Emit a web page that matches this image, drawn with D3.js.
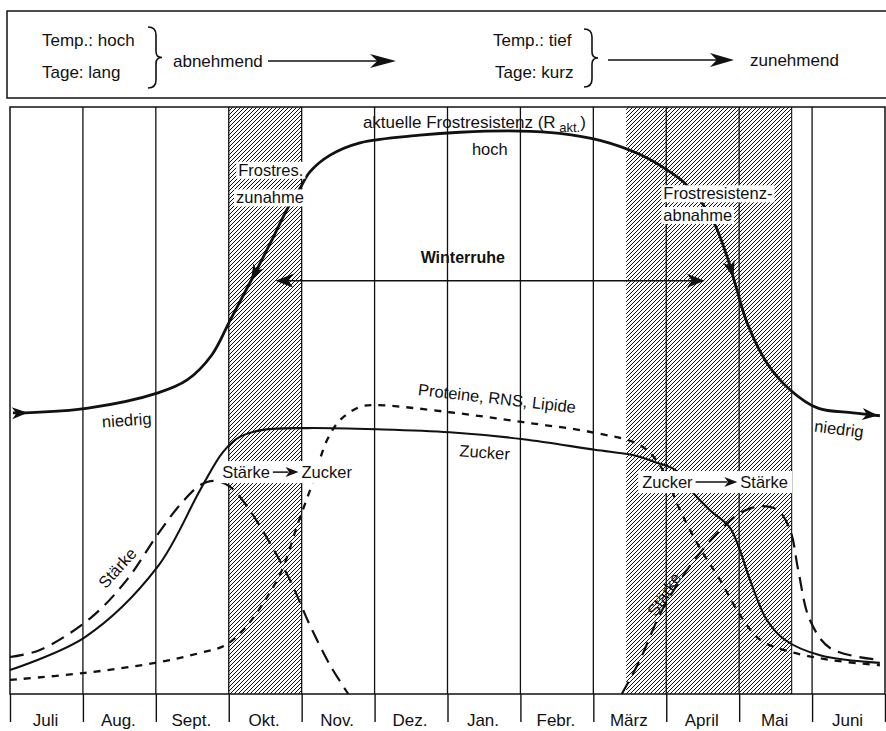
<!DOCTYPE html>
<html>
<head>
<meta charset="utf-8">
<script src="https://cdn.jsdelivr.net/npm/d3@7"></script>
<style>
  html, body { margin: 0; padding: 0; background: #fff; }
  svg { display: block; }
  text { font-family: "Liberation Sans", Arial, sans-serif; fill: #111; }
</style>
</head>
<body>
<svg id="chart"></svg>
<script>
/** DATA: x = months since 1 July, y = relative level (0..100) **/
const months = ['Juli', 'Aug.', 'Sept.', 'Okt.', 'Nov.', 'Dez.', 'Jan.', 'Febr.', 'März', 'April', 'Mai', 'Juni'];

const frostCurve = [
  [0.04, 47.9], [0.21, 47.9], [1.07, 48.7], [2.03, 51.3], [2.43, 53.5], [2.77, 57.8], [3.02, 63.7],
  [3.33, 71.0], [3.57, 76.8], [3.81, 82.8], [3.98, 86.2], [4.11, 88.9], [4.39, 91.8], [4.80, 93.9],
  [5.62, 95.2], [6.17, 95.7], [6.99, 95.9], [7.54, 95.5], [8.09, 94.3], [8.64, 91.9], [9.01, 89.3],
  [9.23, 87.3], [9.46, 84.2], [9.67, 79.9], [9.85, 73.9], [9.97, 68.8], [10.11, 63.2], [10.38, 56.4],
  [10.70, 51.8], [11.08, 48.7], [11.56, 47.9], [11.93, 47.4]
];
const zuckerCurve = [
  [0, 4.1], [1.03, 9.7], [2.02, 21.6], [2.61, 34.8], [2.92, 41.2], [3.15, 43.8], [3.47, 45.0],
  [4.07, 45.3], [5.03, 45.1], [6.03, 44.6], [7.04, 43.4], [8.02, 41.6], [8.54, 40.7], [8.85, 39.5],
  [9.12, 38.2], [9.33, 34.8], [9.60, 31.3], [9.87, 28.4], [10.01, 24.5], [10.15, 19.4], [10.38, 12.6],
  [10.63, 9.2], [11.11, 6.6], [11.93, 5.3]
];
const proteinCurve = [
  [0, 2.4], [1.03, 3.6], [1.99, 5.3], [2.61, 7.0], [2.95, 8.3], [3.22, 11.2], [3.50, 16.0],
  [3.73, 21.1], [3.95, 29.1], [4.14, 35.6], [4.35, 43.3], [4.53, 46.7], [4.80, 48.9], [5.03, 49.2],
  [6.03, 48.0], [7.04, 46.3], [8.02, 44.5], [8.64, 42.4], [8.91, 39.0], [9.19, 31.3], [9.46, 24.9],
  [9.74, 19.4], [10.01, 13.5], [10.29, 9.2], [10.70, 7.2], [11.25, 5.8], [11.93, 4.9]
];
const staerkeHerbst = [
  [0, 6.3], [0.41, 7.5], [1.10, 12.9], [1.60, 19.4], [2.02, 27.1], [2.33, 32.2], [2.61, 35.6],
  [2.81, 36.3], [3.02, 35.3], [3.22, 32.5], [3.50, 27.1], [3.84, 19.4], [4.11, 11.8], [4.39, 4.9], [4.64, 0]
];
const staerkeFruehling = [
  [8.39, 0], [8.64, 5.8], [8.91, 13.5], [9.19, 19.4], [9.46, 24.0], [9.74, 27.9], [10.01, 30.8],
  [10.29, 32.0], [10.53, 31.3], [10.70, 27.9], [10.81, 21.1], [10.97, 12.6], [11.25, 7.8], [11.93, 5.8]
];
// hatched periods (months since 1 July)
const hatchSpans = [[3, 4], [8.45, 10.72]];

const width = 886, height = 731;
const chartTop = 107, chartBottom = 694;

const x = d3.scaleLinear().domain([0, 12]).range([10, 885]);
const y = d3.scaleLinear().domain([0, 100]).range([chartBottom, chartTop]);

const svg = d3.select('#chart')
  .attr('width', width)
  .attr('height', height)
  .attr('viewBox', [0, 0, width, height]);

/** hatch pattern **/
const defs = svg.append('defs');
defs.append('pattern')
  .attr('id', 'hatch')
  .attr('patternUnits', 'userSpaceOnUse')
  .attr('width', 4).attr('height', 4)
  .append('path')
  .attr('d', 'M0,4 L4,0 M-1,1 L1,-1 M3,5 L5,3')
  .attr('stroke', '#111')
  .attr('stroke-width', 1);

/** HEADER BOX **/
const head = svg.append('g');
head.append('rect')
  .attr('x', 7).attr('y', 11).attr('width', 886).attr('height', 87)
  .attr('fill', 'none').attr('stroke', '#111').attr('stroke-width', 1.5);

const headText = [
  { t: 'Temp.: hoch', x: 42, y: 46 }, { t: 'Tage: lang', x: 42, y: 78 }, { t: 'abnehmend', x: 173, y: 67 },
  { t: 'Temp.: tief', x: 493, y: 46 }, { t: 'Tage: kurz', x: 495, y: 78 }, { t: 'zunehmend', x: 750, y: 66 }
];
head.selectAll('text.h').data(headText).join('text')
  .attr('class', 'h')
  .attr('x', (d) => d.x).attr('y', (d) => d.y)
  .style('font-size', '17px')
  .text((d) => d.t);

function brace(g, bx, top, bottom) {
  const mid = (top + bottom) / 2;
  g.append('path')
    .attr('d', `M${bx - 7},${top} Q${bx + 1},${top} ${bx + 1},${top + 8} L${bx + 1},${mid - 6} Q${bx + 1},${mid} ${bx + 7},${mid}` +
      ` Q${bx + 1},${mid} ${bx + 1},${mid + 6} L${bx + 1},${bottom - 8} Q${bx + 1},${bottom} ${bx - 7},${bottom}`)
    .attr('fill', 'none').attr('stroke', '#111').attr('stroke-width', 1.6);
}
brace(head, 155, 27, 88);
brace(head, 591, 29, 87);

function fletched(g, tx, ty, ang, len, half) {
  g.append('path')
    .attr('d', `M0,0 L${-len},${-half} L${-len * 0.72},0 L${-len},${half} Z`)
    .attr('transform', `translate(${tx},${ty}) rotate(${ang})`)
    .attr('fill', '#111');
}
head.append('line').attr('x1', 268).attr('x2', 380).attr('y1', 61).attr('y2', 61).attr('stroke', '#111').attr('stroke-width', 1.5);
fletched(head, 396, 61, 0, 26, 7);
head.append('line').attr('x1', 608).attr('x2', 720).attr('y1', 60).attr('y2', 60).attr('stroke', '#111').attr('stroke-width', 1.5);
fletched(head, 734, 60, 0, 24, 7);

/** MAIN CHART **/
const plot = svg.append('g');

plot.selectAll('rect.hatch').data(hatchSpans).join('rect')
  .attr('class', 'hatch')
  .attr('x', (d) => x(d[0])).attr('width', (d) => x(d[1]) - x(d[0]))
  .attr('y', chartTop).attr('height', chartBottom - chartTop)
  .attr('fill', 'url(#hatch)');

// month grid
plot.selectAll('line.grid').data(d3.range(1, 12)).join('line')
  .attr('class', 'grid')
  .attr('x1', (d) => x(d)).attr('x2', (d) => x(d))
  .attr('y1', chartTop).attr('y2', chartBottom)
  .attr('stroke', '#111').attr('stroke-width', 1.3);
plot.append('line').attr('x1', x(10.72)).attr('x2', x(10.72)).attr('y1', chartTop).attr('y2', chartBottom)
  .attr('stroke', '#111').attr('stroke-width', 1.1);

// frame
plot.append('rect')
  .attr('x', x(0)).attr('y', chartTop).attr('width', x(12) - x(0)).attr('height', chartBottom - chartTop)
  .attr('fill', 'none').attr('stroke', '#111').attr('stroke-width', 1.5);

// month row: axis with ticks between months
const monthAxis = d3.axisBottom(x).tickValues(d3.range(0, 13)).tickSize(28).tickFormat('');
const ax = svg.append('g').attr('transform', `translate(0,${chartBottom})`).call(monthAxis);
ax.select('.domain').remove();
ax.selectAll('.tick line').attr('stroke', '#111').attr('stroke-width', 1.4);
svg.selectAll('text.month').data(months).join('text')
  .attr('class', 'month')
  .attr('x', (d, i) => x(i + 0.5) - 1).attr('y', 726)
  .attr('text-anchor', 'middle')
  .style('font-size', '17px')
  .text((d) => d);

/** CURVES **/
const line = d3.line().x((d) => x(d[0])).y((d) => y(d[1])).curve(d3.curveCatmullRom.alpha(0.5));

plot.append('path').datum(staerkeHerbst).attr('d', line)
  .attr('fill', 'none').attr('stroke', '#111').attr('stroke-width', 2.2).attr('stroke-dasharray', '14,8');
plot.append('path').datum(staerkeFruehling).attr('d', line)
  .attr('fill', 'none').attr('stroke', '#111').attr('stroke-width', 2.2).attr('stroke-dasharray', '14,8');
plot.append('path').datum(proteinCurve).attr('d', line)
  .attr('fill', 'none').attr('stroke', '#111').attr('stroke-width', 2.3).attr('stroke-dasharray', '7,7');
plot.append('path').datum(zuckerCurve).attr('d', line)
  .attr('fill', 'none').attr('stroke', '#111').attr('stroke-width', 2.1);
const frostPath = plot.append('path').datum(frostCurve).attr('d', line)
  .attr('fill', 'none').attr('stroke', '#111').attr('stroke-width', 2.8);

function headOnPath(node, targetX, reverse, len, half) {
  const total = node.getTotalLength();
  let l = 0;
  for (; l < total; l += 0.5) if (node.getPointAtLength(l).x >= targetX) break;
  const p = node.getPointAtLength(l);
  const a = node.getPointAtLength(Math.max(0, l - 2));
  const b = node.getPointAtLength(Math.min(total, l + 2));
  let ang = Math.atan2(b.y - a.y, b.x - a.x) * 180 / Math.PI;
  if (reverse) ang += 180;
  fletched(plot, p.x, p.y, ang, len, half);
}
headOnPath(frostPath.node(), x(0.24), false, 16, 6);
headOnPath(frostPath.node(), x(11.93) - 2, false, 16, 6);
headOnPath(frostPath.node(), x(3.3), true, 17, 6);
headOnPath(frostPath.node(), x(9.92), false, 17, 6);

// Winterruhe arrow
plot.append('line')
  .attr('x1', x(3.7)).attr('x2', x(9.45)).attr('y1', y(70.4)).attr('y2', y(70.4))
  .attr('stroke', '#111').attr('stroke-width', 1.6);
fletched(plot, x(3.64), y(70.4), 180, 18, 7);
fletched(plot, x(9.53), y(70.4), 0, 18, 7);

/** LABELS **/
const labels = svg.append('g');
function label(tx, ty, str, opt = {}) {
  const t = labels.append('text')
    .attr('x', tx).attr('y', ty)
    .attr('text-anchor', opt.anchor || 'start')
    .attr('dominant-baseline', 'central')
    .style('font-size', (opt.size || 16.5) + 'px')
    .style('font-weight', opt.bold ? 'bold' : null)
    .text(str);
  if (opt.rotate) t.attr('transform', `rotate(${opt.rotate},${tx},${ty})`);
  if (opt.bg) {
    const bb = t.node().getBBox();
    labels.insert('rect', () => t.node())
      .attr('x', bb.x - 2).attr('y', bb.y + 1).attr('width', bb.width + 4).attr('height', bb.height - 1)
      .attr('fill', '#fff');
  }
  return t;
}

const akt = labels.append('text')
  .attr('x', x(4.84)).attr('y', y(96.4))
  .style('font-size', '17px');
akt.append('tspan').text('aktuelle Frostresistenz (R');
akt.append('tspan').attr('dy', 4).style('font-size', '13px').text(' akt.');
akt.append('tspan').attr('dy', -4).text(')');

label(x(6.58), y(92.8), 'hoch', { anchor: 'middle' });
label(x(3.13), y(89.3), 'Frostres.', { bg: true });
label(x(3.10), y(84.6), 'zunahme', { bg: true });
label(x(8.96), y(85.3), 'Frostresistenz-', { bg: true });
label(x(8.96), y(81.6), 'abnahme', { bg: true });
label(x(6.21), y(74.3), 'Winterruhe', { anchor: 'middle', bold: true, size: 16 });
label(x(1.60), y(46.7), 'niedrig', { anchor: 'middle', rotate: -4 });
label(x(11.37), y(45.2), 'niedrig', { anchor: 'middle', rotate: 7 });
label(x(6.68), y(50.4), 'Proteine, RNS, Lipide', { anchor: 'middle', rotate: 6.5 });
label(x(6.51), y(41.2), 'Zucker', { anchor: 'middle', rotate: 4 });
label(x(1.47), y(21.5), 'Stärke', { anchor: 'middle', rotate: -48 });
label(x(8.97), y(17.0), 'Stärke', { anchor: 'middle', rotate: -57 });

// conversion labels with arrows
function conversion(x0, x1, ty, left, right) {
  labels.append('rect')
    .attr('x', x0 - 4).attr('y', ty - 11).attr('width', x1 - x0 + 8).attr('height', 22)
    .attr('fill', '#fff');
  const a = label(x0, ty, left);
  const r = label(x1, ty, right, { anchor: 'end' });
  const ax0 = x0 + a.node().getComputedTextLength() + 3;
  const ax1 = x1 - r.node().getComputedTextLength() - 3;
  labels.append('line').attr('x1', ax0).attr('x2', ax1 - 10).attr('y1', ty).attr('y2', ty)
    .attr('stroke', '#111').attr('stroke-width', 1.5);
  fletched(labels, ax1, ty, 0, 13, 5);
}
conversion(x(2.91), x(4.69), y(37.8), 'Stärke', 'Zucker');
conversion(x(8.67), x(10.67), y(36.1), 'Zucker', 'Stärke');
</script>
</body>
</html>
